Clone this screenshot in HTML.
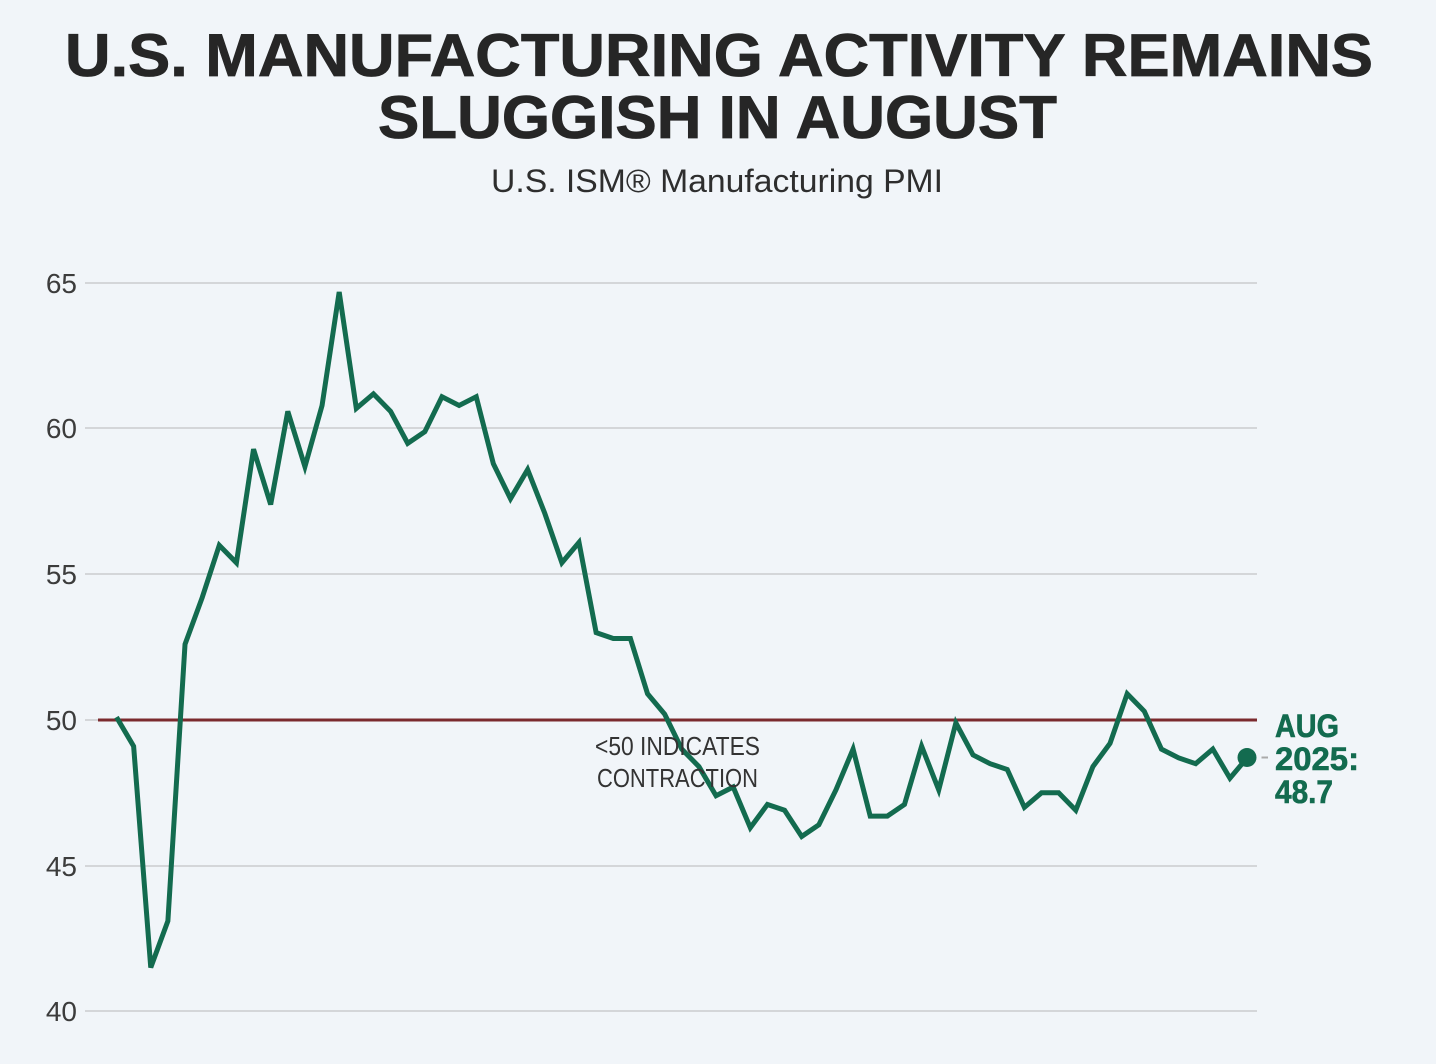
<!DOCTYPE html>
<html>
<head>
<meta charset="utf-8">
<style>
  html, body { margin:0; padding:0; background:#f1f5f9; }
  body { width:1436px; height:1064px; overflow:hidden; }
  svg { display:block; }
  text { font-family: "Liberation Sans", "DejaVu Sans", sans-serif; }
</style>
</head>
<body>
<svg width="1436" height="1064" viewBox="0 0 1436 1064" xmlns="http://www.w3.org/2000/svg">
  <rect x="0" y="0" width="1436" height="1064" fill="#f1f5f9"/>

  <!-- Title -->
  <text x="65" y="76" font-size="60" font-weight="bold" fill="#262626" stroke="#262626" stroke-width="0.8" textLength="1308" lengthAdjust="spacingAndGlyphs">U.S. MANUFACTURING ACTIVITY REMAINS</text>
  <text x="378" y="138" font-size="60" font-weight="bold" fill="#262626" stroke="#262626" stroke-width="0.8" textLength="679" lengthAdjust="spacingAndGlyphs">SLUGGISH IN AUGUST</text>
  <text x="491" y="192" font-size="32" fill="#2e2e2e" textLength="452" lengthAdjust="spacingAndGlyphs">U.S. ISM® Manufacturing PMI</text>

  <!-- Gridlines -->
  <g stroke="#d4d6d9" stroke-width="2">
    <line x1="85" y1="283" x2="1257" y2="283"/>
    <line x1="85" y1="428" x2="1257" y2="428"/>
    <line x1="85" y1="574" x2="1257" y2="574"/>
    <line x1="85" y1="720" x2="1257" y2="720"/>
    <line x1="85" y1="866" x2="1257" y2="866"/>
    <line x1="85" y1="1011" x2="1257" y2="1011"/>
  </g>

  <!-- Y labels -->
  <g font-size="28" fill="#3c3c3c" text-anchor="end">
    <text x="77" y="293">65</text>
    <text x="77" y="438">60</text>
    <text x="77" y="584">55</text>
    <text x="77" y="730">50</text>
    <text x="77" y="876">45</text>
    <text x="77" y="1021">40</text>
  </g>

  <!-- 50 reference line -->
  <line x1="98" y1="720" x2="1257" y2="720" stroke="#7b2a2e" stroke-width="3"/>

  <!-- Series -->
  <polyline fill="none" stroke="#136b4f" stroke-width="5" stroke-linejoin="miter" stroke-miterlimit="4" stroke-linecap="butt"
    points="116.5,717.09 133.63,746.21 150.76,967.52 167.89,920.93 185.02,644.29 202.15,597.70 219.28,545.28 236.41,562.75 253.54,449.18 270.67,504.51 287.8,411.33 304.93,466.66 322.06,405.50 339.19,291.94 356.32,408.42 373.45,393.86 390.58,411.33 407.71,443.36 424.84,431.71 441.97,396.77 459.1,405.50 476.23,396.77 493.36,463.74 510.49,498.69 527.62,469.57 544.75,513.25 561.88,562.75 579.01,542.37 596.14,632.64 613.27,638.46 630.4,638.46 647.53,693.79 664.66,714.18 681.79,749.12 698.92,766.59 716.05,795.71 733.18,786.98 750.31,827.74 767.44,804.45 784.57,810.27 801.7,836.48 818.83,824.83 835.96,789.89 853.09,749.12 870.22,816.10 887.35,816.10 904.48,804.45 921.61,746.21 938.74,789.89 955.87,722.91 973.0,754.94 990.13,763.68 1007.26,769.50 1024.39,807.36 1041.52,792.80 1058.65,792.80 1075.78,810.27 1092.91,766.59 1110.04,743.30 1127.17,693.79 1144.3,711.26 1161.43,749.12 1178.56,757.86 1195.69,763.68 1212.82,749.12 1229.95,778.24 1247.08,757.86"/>

  <!-- Annotation -->
  <text x="595" y="755" font-size="26" fill="#333333" textLength="165" lengthAdjust="spacingAndGlyphs">&lt;50 INDICATES</text>
  <text x="597" y="787" font-size="26" fill="#333333" textLength="161" lengthAdjust="spacingAndGlyphs">CONTRACTION</text>

  <!-- End marker and label -->
  <circle cx="1247" cy="757.5" r="9.5" fill="#136b4f"/>
  <line x1="1261.5" y1="757.5" x2="1268" y2="757.5" stroke="#aaaaaa" stroke-width="2"/>
  <g font-size="32" font-weight="bold" fill="#136b4f" stroke="#136b4f" stroke-width="0.6">
    <text x="1275" y="737" textLength="64" lengthAdjust="spacingAndGlyphs">AUG</text>
    <text x="1275" y="770" textLength="84" lengthAdjust="spacingAndGlyphs">2025:</text>
    <text x="1275" y="803" textLength="58" lengthAdjust="spacingAndGlyphs">48.7</text>
  </g>
</svg>
</body>
</html>
